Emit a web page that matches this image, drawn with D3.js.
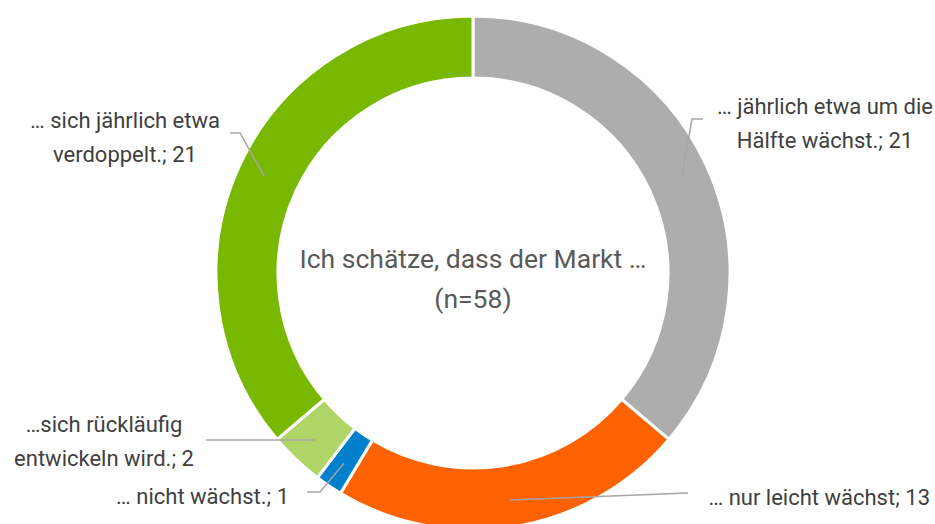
<!DOCTYPE html>
<html>
<head>
<meta charset="utf-8">
<script src="https://cdn.jsdelivr.net/npm/d3@7"></script>
<style>
  body { margin: 0; background: #fff; }
  svg { display: block; font-family: Roboto, "Open Sans", sans-serif; }
</style>
</head>
<body>
<svg id="mainsvg" width="935" height="524"></svg>
<script>
// data (clockwise from 12 o'clock)
const categories = [
  ['… jährlich etwa um die', 'Hälfte wächst.; 21'],
  ['… nur leicht wächst; 13'],
  ['… nicht wächst.; 1'],
  ['…sich rückläufig', 'entwickeln wird.; 2'],
  ['… sich jährlich etwa', 'verdoppelt.; 21']
]
const values = [21, 13, 1, 2, 21]
const colors = ['#adadad', '#ff6200', '#0080cc', '#aed566', '#78b800']
const centerTitle = ['Ich schätze, dass der Markt …', '(n=58)']

// label layout: text anchor point (middle of first line) + elbow of leader line
const labelLayout = [
  {x: 825, y: 106, anchor: 'middle', line: [[703, 119], [692, 119]]},
  {x: 930, y: 497, anchor: 'end', line: [[688, 493]]},
  {x: 289, y: 496, anchor: 'end', line: [[307, 492], [320, 492]]},
  {x: 104, y: 424, anchor: 'middle', line: [[206, 440]]},
  {x: 125, y: 120, anchor: 'middle', line: [[230, 133], [240, 133]]}
]

let cx = 473, cy = 273
let outerR = 257, innerR = 195
let lineGap = 34

const svg = d3.select('#mainsvg')
const g = svg.append('g').attr('transform', `translate(${cx},${cy})`)

const pie = d3.pie().sort(null).value(d => d)
const arcs = pie(values)
const arc = d3.arc().innerRadius(innerR).outerRadius(outerR)
const midArc = d3.arc().innerRadius((innerR + outerR) / 2 + 4).outerRadius((innerR + outerR) / 2 + 4)

g.selectAll('path.slice')
  .data(arcs)
  .enter().append('path')
  .attr('class', 'slice')
  .attr('d', arc)
  .attr('fill', (d, i) => colors[i])
  .attr('stroke', 'white')
  .attr('stroke-width', 3)

// leader lines
const line = d3.line()
arcs.forEach((d, i) => {
  let c = midArc.centroid(d)
  let pts = [[c[0] + cx, c[1] + cy]].concat(labelLayout[i].line.slice().reverse())
  svg.append('path')
    .attr('d', line(pts))
    .attr('fill', 'none')
    .attr('stroke', '#a6a6a6')
    .attr('stroke-width', 1.5)
})

// labels
categories.forEach((lines, i) => {
  let L = labelLayout[i]
  let t = svg.append('text')
    .attr('x', L.x)
    .attr('y', L.y)
    .attr('text-anchor', L.anchor)
    .attr('font-size', 22)
    .attr('fill', '#404040')
  lines.forEach((s, j) => {
    t.append('tspan')
      .attr('x', L.x)
      .attr('dy', j === 0 ? '0.35em' : lineGap)
      .text(s)
  })
})

// centre title
centerTitle.forEach((s, j) => {
  svg.append('text')
    .attr('x', cx)
    .attr('y', 259 + j * 40)
    .attr('dy', '0.35em')
    .attr('text-anchor', 'middle')
    .attr('font-size', 26.5)
    .attr('fill', '#595959')
    .text(s)
})
</script>
</body>
</html>
